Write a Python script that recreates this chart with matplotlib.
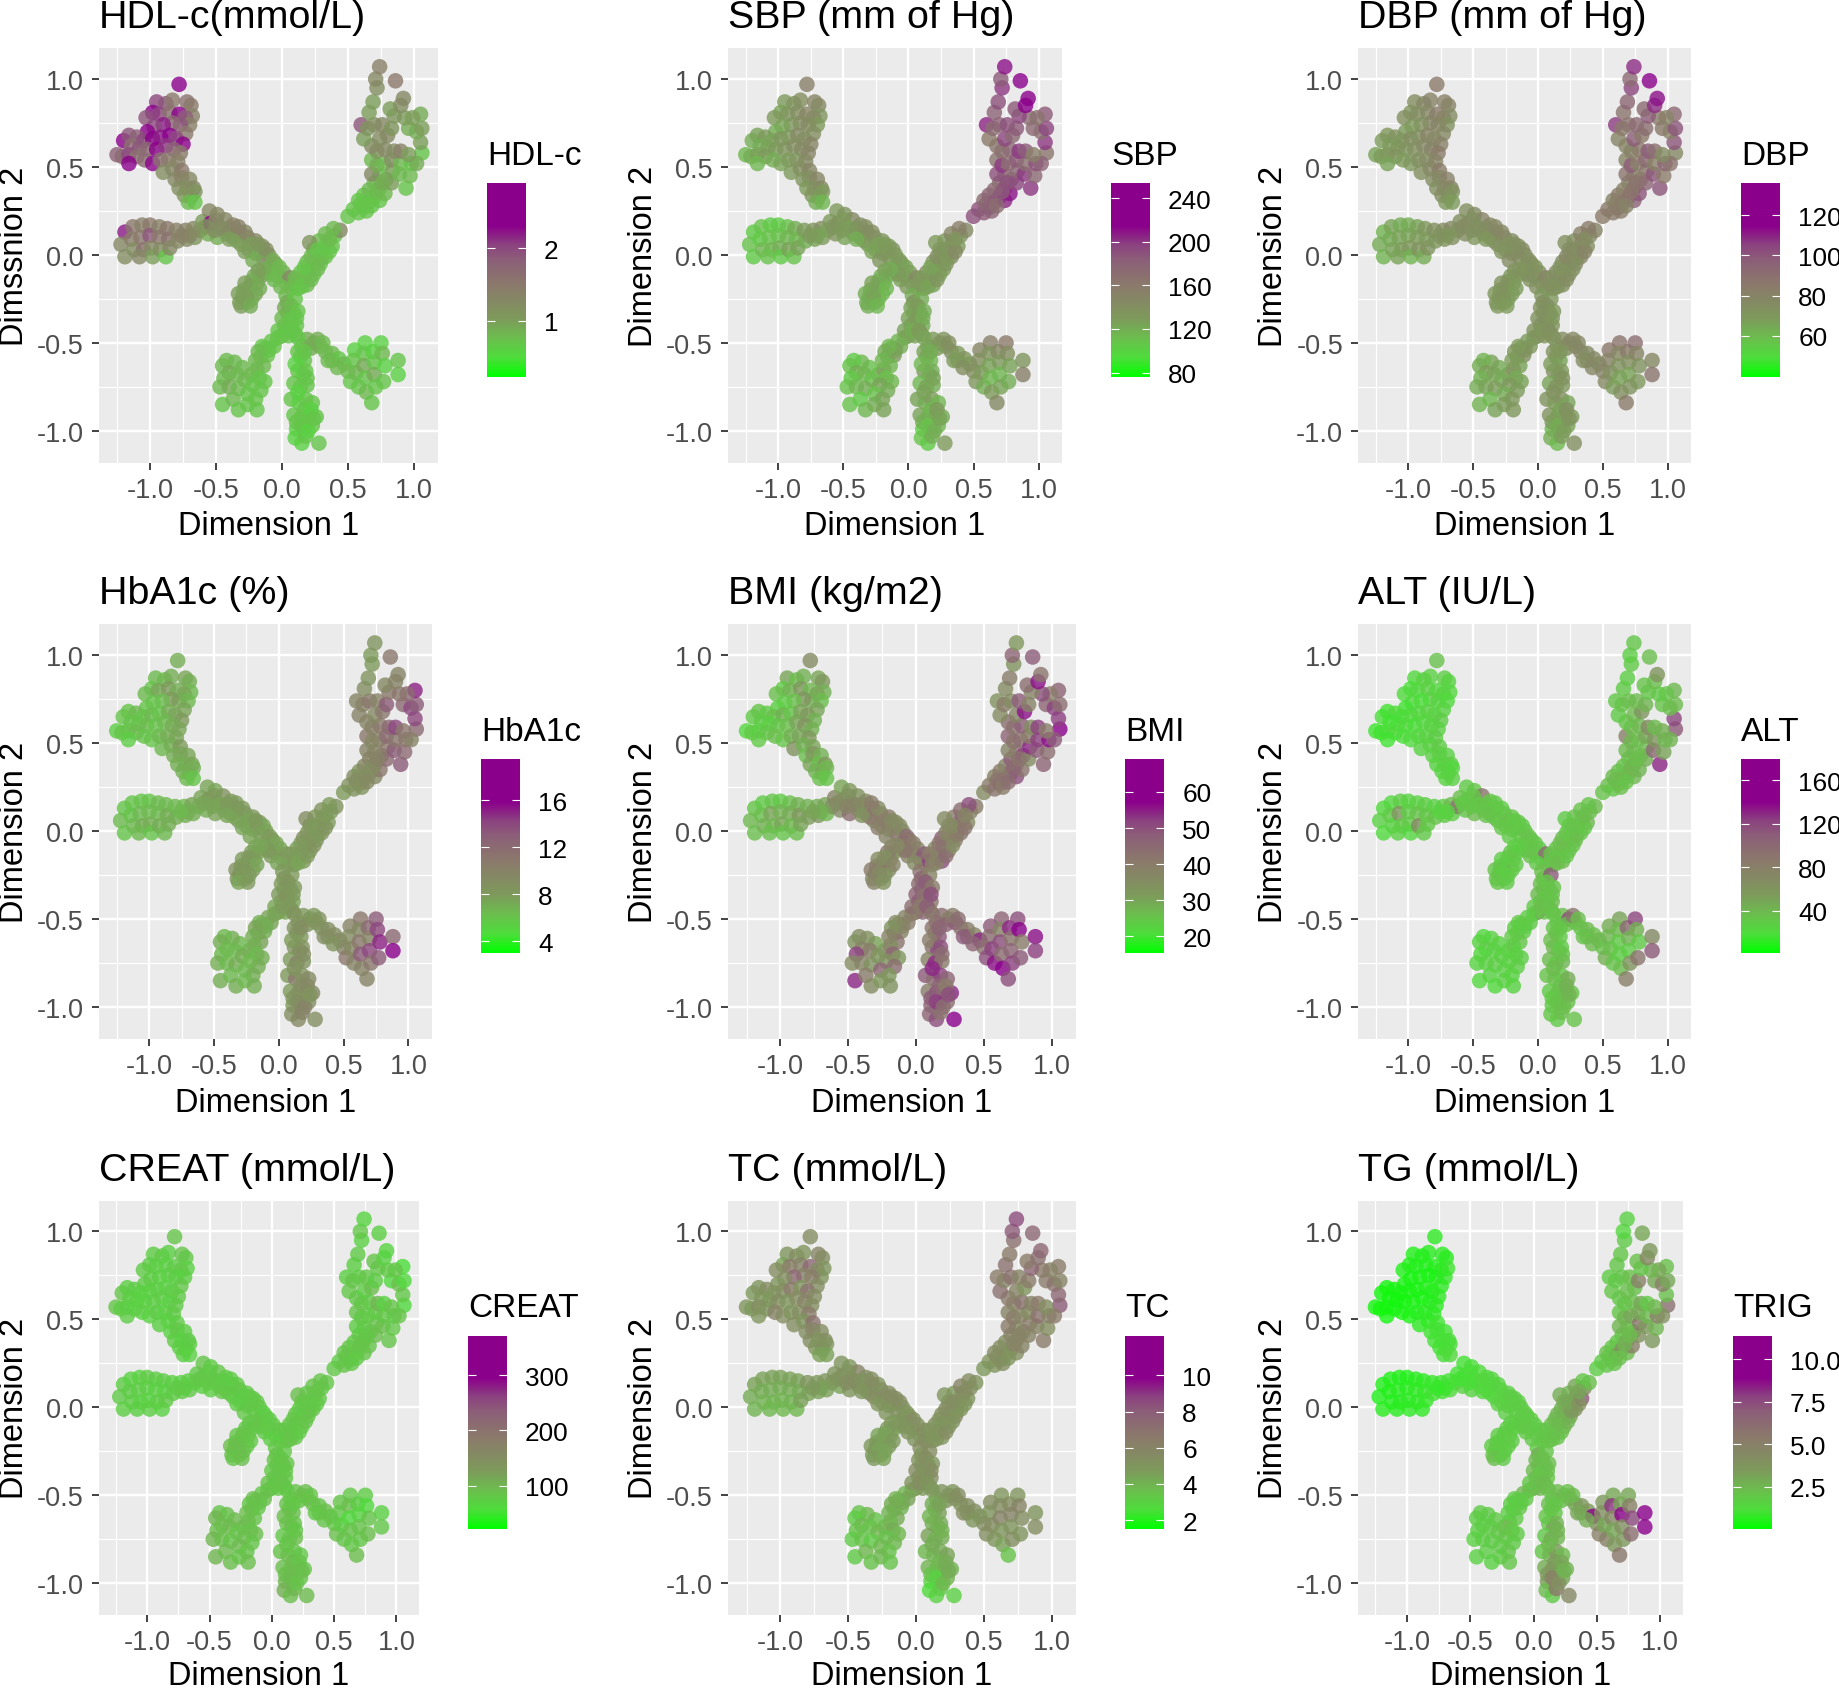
import matplotlib
matplotlib.use("Agg")
import matplotlib.pyplot as plt
import numpy as np
from matplotlib.colors import LinearSegmentedColormap, Normalize

plt.rcParams['font.family'] = ['Liberation Sans', 'DejaVu Sans']

X = [
-.78,-.95,-.88,-.83,-.72,-.69,-.68,-.98,-1.03,-.93,
-.85,-.78,-.73,-.70,-.77,-.83,-.90,-.97,-1.02,-.73,
-1.20,-1.16,-1.10,-1.05,-.98,-.92,-.85,-.80,-.75,-1.14,
-1.08,-1.02,-.95,-.88,-.82,-.77,-1.25,-1.21,-1.16,-1.10,
-1.16,-1.04,-.98,-.92,-.86,-.79,-.90,-.83,-.76,-.81,
-.76,-.70,-.78,-.72,-.67,-.74,-.69,-.66,-.71,-.66,
-1.19,-1.22,-1.19,-1.13,-1.14,-1.12,-1.06,-1.07,-1.05,-1.08,
-1.0,-1.0,-.99,-.98,-.93,-.93,-.92,-.88,-.87,-.86,
-.85,-.80,-.79,-.73,-.72,-.67,-.66,-.62,-.60,-.56,
-.55,-.54,-.49,-.48,-.49,-.43,-.42,-.37,-.37,-.32,
-.31,-.26,-.25,-.20,-.20,-.15,-.14,-.10,-.09,-.05,
-.03,.01,.03,.06,.07,-.12,-.06,-.01,.03,.10,
-.16,-.19,-.21,-.24,-.20,-.27,-.30,-.26,-.32,-.29,
.12,.16,.19,.14,.20,.24,.19,.25,.29,.24,
.30,.33,.28,.34,.38,.33,.40,.44,.39,.21,
.50,.54,.58,.58,.62,.62,.66,.66,.70,.70,
.74,.74,.74,.78,.79,.68,.68,.72,.77,.83,
.84,.83,.89,.90,.94,.97,.98,1.06,1.02,1.05,
.72,.78,.85,.90,.96,.68,.74,.80,.62,.60,
.65,.70,.76,.83,.96,1.02,1.06,1.05,.99,.93,
.85,.82,.90,.92,.66,.69,.72,.71,.74,.86,
.04,.10,.04,.09,.02,.07,.11,.0,.05,.10,
-.03,-.08,-.13,-.16,-.11,-.14,-.19,-.23,-.17,-.13,
-.30,-.36,-.42,-.45,-.40,-.34,-.28,-.22,-.16,-.44,
-.47,-.40,-.33,-.26,-.20,-.45,-.37,-.33,-.26,-.19,
.15,.14,.17,.12,.16,.09,.14,.19,.07,.13,
.18,.23,.09,.15,.21,.26,.11,.17,.23,.28,
.10,.15,.18,.12,.17,.22,.11,.15,.20,.24,
.19,.24,.29,.33,.38,.38,.43,.47,.50,.52,
.55,.54,.56,.58,.63,.62,.62,.63,.64,.68,
.69,.70,.70,.71,.75,.76,.78,.77,.88,.88,
-.50,-.45,-.40,-.34,-.28,-.23,-.17,-.12,-.07,-.02,
-.70,-.76,-.58,-.51,-.33,-.40,-.18,-.28,-.22,-.08,
-.14,-.18,-.23,-.17,-.28,-.33,-.23,-.27,-.31,-.24,
.10,.15,.22,.27,.17,.22,.30,.27,.36,.36,
.02,.07,.12,.0,.06,.11,-.03,.03,.08,.12,
-.06,-.10,-.15,-.18,-.20,.22,.27,.31,.35,.42,
.12,.17,.10,.18,.19,.60,.64,.68,.72,.76,
]
Y = [
.97,.87,.86,.88,.87,.85,.79,.81,.78,.80,
.81,.80,.78,.74,.74,.75,.74,.73,.70,.69,
.65,.68,.67,.65,.66,.67,.68,.66,.63,.62,
.61,.60,.60,.62,.60,.58,.57,.56,.57,.56,
.52,.54,.52,.54,.54,.53,.47,.49,.48,.43,
.44,.43,.38,.38,.38,.34,.33,.36,.30,.30,
.13,.06,-.01,.16,.09,.03,.17,.10,.03,-.01,
.17,.11,.04,-.01,.16,.10,.03,-.01,.15,.09,
.04,.14,.08,.14,.09,.15,.10,.14,.19,.12,
.25,.18,.23,.16,.10,.20,.12,.17,.10,.13,
.06,.10,.03,.08,.01,.05,-.02,0.0,-.07,-.05,
-.12,-.10,-.16,-.13,-.19,-.10,-.14,-.18,-.23,-.17,
-.12,-.16,-.12,-.18,-.22,-.21,-.24,-.27,-.27,-.20,
-.19,-.14,-.17,-.10,-.09,-.11,-.04,-.04,-.05,.03,
.02,-.01,.08,.07,.05,.12,.11,.14,.15,.07,
.22,.26,.24,.31,.27,.34,.30,.37,.33,.41,
.31,.38,.45,.35,.43,.46,.54,.51,.52,.41,
.48,.54,.46,.52,.38,.45,.52,.58,.52,.64,
.59,.60,.59,.59,.57,.62,.66,.68,.66,.74,
.72,.74,.74,.72,.72,.70,.72,.80,.78,.78,
.79,.83,.85,.89,.81,.87,.95,1.0,1.07,.99,
-.27,-.25,-.33,-.33,-.40,-.40,-.40,-.46,-.46,-.45,
-.47,-.49,-.53,-.58,-.57,-.63,-.65,-.68,-.70,-.72,
-.64,-.61,-.60,-.63,-.67,-.68,-.71,-.74,-.77,-.70,
-.75,-.75,-.76,-.79,-.82,-.85,-.82,-.88,-.85,-.88,
-.52,-.58,-.60,-.66,-.68,-.73,-.75,-.74,-.82,-.84,
-.82,-.84,-.91,-.92,-.91,-.92,-.99,-.98,-.97,-1.07,
-1.04,-1.07,-1.03,-.78,-.88,-.88,-.95,-.97,-1.0,-.93,
-.48,-.50,-.52,-.55,-.56,-.60,-.59,-.62,-.66,-.72,
-.54,-.60,-.67,-.75,-.50,-.56,-.63,-.70,-.78,-.84,
-.55,-.61,-.68,-.75,-.50,-.56,-.63,-.72,-.60,-.68,
.20,.15,.15,.08,.13,.06,.02,.03,-.03,-.07,
.11,.11,.16,.14,.16,.09,.06,.02,-.03,-.11,
-.08,-.09,-.15,-.19,-.16,-.22,-.25,-.24,-.29,-.29,
-.13,-.18,-.14,-.08,-.07,-.01,-.02,.03,.02,.09,
-.30,-.29,-.32,-.36,-.37,-.36,-.43,-.43,-.43,-.47,
-.52,-.54,-.52,-.55,-.60,-.53,-.48,-.50,-.60,-.64,
-.55,-.55,-.62,-.66,-.70,.29,.25,.28,.36,.41,
]

HDL = [
2.5,2.0,1.9,1.5,1.6,1.5,1.4,2.3,1.9,2.0,
1.6,2.3,1.8,1.4,1.9,1.7,2.2,2.0,2.4,1.5,
2.6,1.9,1.8,2.0,2.4,2.2,2.5,2.0,2.4,1.6,
1.9,1.7,2.3,2.1,1.8,1.5,1.8,1.7,2.0,1.6,
2.5,1.7,2.4,1.6,1.5,1.4,1.2,1.3,1.5,1.3,
1.4,1.3,1.2,1.2,1.3,1.1,1.2,1.1,.8,.7,
2.2,1.3,1.2,1.5,1.4,1.2,1.4,1.5,1.6,1.3,
1.5,1.9,1.3,1.0,1.4,1.5,1.2,.7,1.5,1.6,
1.3,1.4,1.3,1.4,1.3,1.3,1.1,1.2,1.0,.9,
1.3,2.3,1.3,1.2,.9,1.3,1.0,1.4,1.1,1.4,
1.0,1.4,1.1,1.3,1.0,1.2,1.6,1.1,.8,1.0,
.8,.9,.8,1.3,.8,.9,.8,.8,.8,.8,
1.0,1.0,.9,1.0,1.0,.9,1.0,.9,1.0,.9,
.7,.7,.8,.7,.8,.7,.8,.7,.7,.9,
.7,.7,.8,.7,.7,.8,.7,1.3,.8,1.1,
.7,.7,.7,.7,.7,.7,.7,.8,.7,.8,
.7,.8,.7,.8,.9,1.3,.8,.9,.8,1.0,
1.0,1.2,.8,.8,.7,.8,.7,.7,.9,1.0,
1.1,1.3,1.2,1.4,1.0,1.3,1.2,1.3,1.0,1.9,
1.1,1.2,1.3,1.1,.9,.9,1.0,.9,1.0,1.0,
1.1,1.0,1.2,1.3,1.0,1.0,1.2,1.3,1.4,1.5,
.9,.7,.9,.7,.8,.7,.7,.9,.7,.7,
.7,.7,.7,.8,.7,.8,.8,.8,.7,.7,
.8,.8,.8,.8,.9,.8,.8,.7,.7,.8,
.8,.9,.8,.7,.7,.7,.8,.7,.7,.7,
.7,.6,.7,.7,.6,.7,.7,.7,.7,.6,
.7,.7,.7,.7,.7,.7,.6,.6,.7,.7,
.6,.6,.7,.6,.7,.6,.7,.7,.6,.7,
.9,.9,.8,.8,.8,.8,.7,.8,.8,.7,
.6,.7,.8,.7,.6,.7,.9,.7,.8,.7,
.6,.7,.9,.7,.6,.8,.6,.7,.7,.6,
1.3,1.2,1.3,1.0,1.3,1.0,.9,1.2,.9,.8,
1.3,1.4,1.1,1.2,1.4,1.0,1.1,1.0,.9,.8,
.9,1.0,.9,.9,1.0,1.0,.9,1.0,1.0,.9,
.8,.7,.8,.8,.7,.8,.8,.7,.7,.8,
.9,.8,.7,.8,.7,.7,.7,.7,.7,.7,
.7,.7,.7,.8,.8,.9,.9,.8,.8,.8,
.7,.7,.6,.7,.7,.7,.7,.7,.8,.9,
]
SBP = [
155,130,135,140,150,145,135,125,130,135,
140,150,145,130,140,145,135,125,120,140,
120,125,130,125,135,130,145,140,150,120,
125,130,135,140,145,150,115,120,125,130,
115,120,125,130,135,145,130,140,150,135,
140,150,130,140,145,135,135,130,120,115,
105,110,105,110,105,115,105,110,115,110,
105,110,120,105,110,115,125,110,120,115,
125,130,120,135,125,140,130,125,130,135,
130,140,135,130,125,145,130,140,125,145,
125,140,130,135,130,130,140,125,130,130,
135,130,125,145,130,120,125,130,120,130,
115,125,120,125,115,125,120,125,120,125,
130,135,125,140,130,125,135,130,140,135,
125,145,130,140,130,150,135,145,155,130,
190,190,185,170,190,180,195,175,185,170,
205,185,165,210,175,190,165,200,170,195,
175,185,200,170,200,175,190,165,180,200,
170,175,200,185,155,165,195,175,160,205,
170,180,190,185,175,170,195,185,165,170,
195,185,215,225,180,190,200,185,210,230,
140,120,125,130,135,125,120,130,125,130,
125,115,120,125,130,115,120,125,110,115,
110,115,105,110,120,115,110,125,120,105,
110,115,120,110,125,110,105,115,120,125,
120,125,115,130,120,115,125,120,125,120,
130,115,125,120,130,120,100,110,115,130,
110,105,120,125,115,130,120,110,120,125,
130,135,125,140,130,125,135,130,140,135,
150,140,130,120,155,135,125,115,130,145,
145,130,115,125,160,140,125,120,135,155,
130,125,135,130,140,125,130,135,130,125,
125,130,135,130,140,120,130,125,135,130,
120,125,120,115,125,120,115,125,120,115,
130,125,135,130,125,140,130,135,145,135,
125,130,120,125,130,120,125,120,130,125,
120,125,115,120,115,130,135,140,130,140,
125,120,115,120,125,175,180,170,185,190,
]
DBP = [
85,75,78,80,82,80,76,72,74,75,
78,84,80,72,78,80,74,70,68,78,
68,70,72,70,75,74,80,78,82,68,
70,72,74,78,80,84,66,68,70,72,
66,68,70,74,76,80,74,78,84,76,
78,82,74,78,80,76,76,72,70,68,
62,64,62,66,64,66,64,66,68,66,
64,66,70,62,66,68,72,64,70,68,
72,74,70,76,72,78,74,72,74,76,
74,78,76,74,70,80,74,78,72,80,
72,78,74,76,72,74,78,72,74,74,
76,74,72,80,74,70,72,74,70,74,
68,72,70,72,68,72,70,72,70,72,
74,76,72,78,74,72,76,74,78,76,
72,80,74,78,74,82,76,80,84,74,
84,86,84,80,88,84,92,82,88,80,
96,90,78,100,84,88,80,98,82,95,
86,92,100,82,100,84,95,78,88,100,
82,85,98,90,76,80,98,85,80,106,
84,88,92,90,86,82,100,92,80,84,
98,92,108,112,88,94,104,92,108,115,
76,70,72,74,76,72,70,74,72,74,
72,68,70,72,74,66,70,72,64,66,
64,66,62,64,68,66,64,70,68,62,
64,66,68,64,70,62,60,66,68,70,
70,72,66,74,70,66,72,70,72,68,
74,66,72,68,74,68,60,64,66,74,
64,60,68,72,66,74,68,64,68,72,
76,78,74,80,76,72,78,76,80,78,
86,80,74,68,88,78,72,66,74,84,
84,74,66,72,90,80,72,70,78,88,
74,72,76,74,78,72,74,76,74,72,
70,72,76,74,78,70,74,72,76,74,
70,72,70,68,72,70,68,72,70,68,
74,72,76,74,72,78,74,76,80,76,
72,74,70,72,74,70,72,70,74,72,
70,72,68,70,68,76,78,78,76,78,
72,70,68,70,72,82,84,80,86,88,
]
HBA1C = [
7.0,6.5,6.5,7.0,7.5,7.0,6.5,6.0,6.5,7.5,
8.0,7.0,7.5,6.5,7.0,8.0,6.5,6.0,6.0,7.5,
6.0,6.0,6.5,6.0,6.5,6.0,7.0,7.5,8.0,6.0,
6.0,6.5,6.0,6.5,7.0,7.5,5.5,6.0,6.0,6.5,
5.5,6.0,6.0,6.5,7.0,7.5,6.5,7.0,8.0,7.0,
7.5,7.5,7.0,7.0,7.5,7.0,7.0,7.0,6.5,6.0,
6.0,6.5,6.0,6.0,6.0,6.5,6.0,6.5,7.0,6.5,
6.0,6.5,7.0,6.0,6.5,6.5,7.0,6.5,6.5,7.0,
7.0,6.5,7.0,6.5,7.0,7.5,7.0,7.0,7.5,7.0,
7.5,8.5,7.5,8.0,7.5,8.5,8.0,8.0,7.5,9.0,
8.0,8.5,8.0,8.0,7.5,8.0,8.5,7.5,8.0,8.0,
8.0,7.5,8.0,8.0,8.0,7.5,8.0,7.5,8.0,7.5,
7.5,8.0,8.0,8.5,8.0,11.0,8.5,8.0,8.5,8.0,
8.0,7.5,8.0,7.5,8.0,8.5,9.0,8.0,8.5,8.0,
8.0,8.5,8.0,8.5,8.0,8.5,8.0,8.5,8.0,9.0,
8.0,8.5,8.5,9.0,9.0,8.5,9.0,9.5,9.0,10.0,
9.5,10.0,10.0,11.0,10.0,10.0,11.0,9.5,10.0,12.0,
11.0,12.0,13.0,11.0,13.0,12.0,11.0,12.0,10.0,14.0,
10.0,11.0,12.0,14.0,11.0,10.0,9.5,11.0,10.0,10.0,
10.0,11.0,10.0,13.0,12.0,14.0,13.0,15.0,12.0,11.0,
11.0,9.5,10.0,10.0,9.0,8.5,8.0,8.0,8.5,11.0,
8.5,8.0,8.0,8.5,8.0,8.0,7.5,8.0,7.5,8.0,
7.5,7.5,7.0,7.5,7.0,7.5,7.0,7.0,6.5,7.0,
6.5,7.0,6.5,7.0,6.5,6.5,7.0,6.5,7.0,6.5,
7.0,6.5,7.0,6.5,7.0,7.0,6.5,7.0,6.5,7.0,
8.5,9.0,8.0,8.5,9.5,8.0,10.0,8.5,8.0,11.0,
8.5,9.5,8.0,9.0,8.5,9.5,8.0,11.0,9.0,9.0,
9.0,9.5,10.0,8.5,9.0,9.5,8.5,9.0,10.0,8.5,
8.0,8.5,8.0,8.5,9.0,8.5,9.0,9.5,10.0,11.0,
10.0,9.0,9.5,10.0,11.0,9.5,11.0,13.0,10.0,10.0,
12.0,10.0,14.0,11.0,13.0,14.0,15.0,13.0,12.0,16.0,
8.0,7.5,8.0,7.5,8.0,7.5,8.0,7.5,8.0,7.5,
7.0,6.5,7.5,7.5,8.0,7.5,8.0,7.5,7.5,8.0,
7.5,7.5,8.0,7.5,8.0,8.5,8.0,8.0,7.5,8.0,
8.0,7.5,8.0,8.5,8.0,8.5,8.0,8.0,8.5,8.0,
8.0,8.5,8.0,8.0,8.5,8.0,7.5,8.0,8.0,8.5,
7.5,7.0,7.0,7.5,7.0,8.5,8.0,8.5,9.0,8.5,
8.5,9.0,8.0,8.5,9.0,9.0,8.5,9.5,9.0,10.0,
]
BMI = [
36,30,26,28,30,32,28,24,26,28,
32,27,30,26,28,33,26,24,23,30,
24,25,24,26,28,25,30,32,28,24,
23,25,26,30,33,28,22,24,23,25,
24,26,25,28,30,32,34,28,30,26,
33,28,30,26,32,28,30,27,26,25,
25,27,26,24,26,28,25,30,27,26,
24,28,30,25,26,29,27,26,28,32,
30,28,31,29,33,30,27,34,38,36,
30,34,32,38,44,34,40,36,35,46,
34,38,33,40,35,36,46,36,50,38,
42,36,46,48,40,36,38,36,42,52,
32,38,42,36,35,46,38,34,36,40,
38,34,50,36,44,38,48,36,40,34,
38,42,40,48,36,44,38,40,50,36,
36,40,42,38,46,40,44,38,42,48,
50,38,44,42,52,38,46,42,44,36,
54,40,48,52,46,44,56,60,48,52,
42,48,36,52,40,44,38,56,36,34,
40,36,48,38,46,52,44,46,40,50,
38,44,56,42,36,40,34,46,32,48,
46,38,52,44,54,48,42,40,46,38,
40,38,36,44,38,42,34,38,46,32,
30,34,36,34,38,40,32,34,44,52,
36,38,34,46,32,54,40,36,32,34,
44,38,48,42,50,38,54,40,48,44,
52,46,40,50,42,54,46,56,44,58,
46,50,42,54,46,40,48,52,44,50,
44,38,52,42,40,46,38,54,42,50,
48,44,52,56,46,38,50,44,58,50,
54,42,46,52,50,58,40,48,56,52,
34,38,36,42,36,40,38,36,44,40,
28,30,36,38,40,34,36,40,38,42,
36,38,34,38,36,40,34,36,38,34,
40,38,44,36,42,38,40,36,42,38,
44,48,40,46,42,50,44,40,48,42,
40,38,36,34,38,46,40,44,48,46,
42,46,40,50,44,42,40,44,46,42,
]
ALT = [
35,22,24,26,28,24,22,18,20,22,
26,22,24,20,22,26,18,20,16,24,
18,16,20,18,20,22,24,26,28,16,
18,20,18,22,24,26,15,16,18,20,
16,18,20,22,24,28,24,26,30,26,
28,26,24,26,28,24,28,22,24,26,
22,26,20,22,30,24,28,60,30,26,
24,28,30,22,26,34,70,30,28,32,
30,26,34,28,30,38,28,90,36,32,
30,34,32,30,38,90,34,32,36,38,
34,36,30,32,38,34,30,34,36,32,
36,30,32,100,36,32,34,30,36,34,
28,30,32,34,30,55,32,30,34,32,
34,32,38,30,36,34,38,32,36,30,
38,34,36,32,40,34,36,38,34,30,
34,36,32,38,34,36,40,34,38,36,
40,36,38,42,36,38,80,40,36,44,
38,48,100,60,130,50,40,110,42,120,
36,40,70,38,44,34,38,60,30,32,
34,36,38,42,34,36,38,40,34,30,
32,34,36,60,30,28,30,28,32,36,
36,110,34,32,38,34,36,120,34,40,
30,28,32,26,30,32,28,30,26,28,
24,26,22,24,28,26,24,26,28,22,
24,26,28,26,24,22,24,20,26,24,
32,36,30,40,34,38,30,42,34,36,
32,46,30,36,40,34,30,40,36,34,
32,30,36,38,34,44,30,34,36,42,
38,120,36,34,38,40,36,38,34,44,
46,40,36,34,50,38,30,28,36,80,
100,42,28,60,120,44,30,90,70,110,
32,30,34,32,30,34,32,30,34,32,
26,24,30,32,30,34,30,32,30,34,
30,28,32,30,28,32,30,28,32,30,
34,36,32,34,36,32,36,34,32,36,
36,32,34,38,32,34,30,36,34,32,
30,28,30,28,30,34,90,36,34,38,
34,32,36,30,34,38,36,34,40,36,
]
CREAT = [
85,75,78,72,85,80,70,75,78,72,
70,75,80,72,68,75,70,72,78,80,
85,72,75,70,68,72,70,75,78,72,
70,68,72,75,70,78,85,75,72,70,
75,72,68,75,70,78,72,70,75,68,
80,72,75,70,78,72,70,75,72,70,
75,78,72,70,75,72,68,75,70,72,
78,72,68,72,75,70,72,68,75,70,
78,72,75,70,78,72,80,75,78,72,
85,80,75,78,72,80,75,78,72,80,
78,80,75,78,72,80,75,78,85,72,
75,78,72,80,70,75,78,72,80,70,
85,80,78,85,80,120,85,80,90,85,
80,85,78,85,80,78,85,80,78,85,
80,85,78,85,80,85,78,80,85,90,
80,78,85,80,78,85,80,78,85,80,
85,80,78,85,80,75,85,80,78,90,
85,78,90,80,85,80,78,60,85,80,
85,78,100,70,85,80,75,90,80,72,
85,78,80,75,60,90,60,55,85,78,
80,85,70,65,72,78,70,80,65,72,
85,80,90,78,85,80,78,85,80,85,
85,80,85,90,80,85,90,95,85,90,
95,90,85,100,90,95,85,90,85,90,
100,90,85,95,85,100,95,90,85,90,
85,80,90,85,95,80,85,90,85,90,
85,80,90,85,95,85,100,90,85,95,
105,90,100,85,95,85,90,95,85,90,
85,90,85,90,85,80,90,85,80,90,
85,80,75,85,80,90,60,85,80,90,
75,65,85,80,75,60,85,90,70,80,
78,80,75,78,80,75,78,80,75,78,
75,78,80,78,75,80,78,75,80,78,
85,80,85,80,85,90,85,90,85,90,
80,85,78,85,80,78,85,80,78,85,
85,80,85,80,85,80,85,80,85,80,
90,85,90,85,90,85,90,85,80,85,
85,80,90,85,80,85,80,78,85,80,
]
TC = [
5.5,5.0,5.5,5.0,6.0,5.5,5.0,4.5,5.5,6.5,
6.0,7.5,5.5,5.0,6.5,6.0,7.5,5.5,5.0,5.5,
4.8,5.0,5.5,5.0,5.5,6.5,5.0,7.0,5.5,5.0,
4.8,5.5,5.0,5.5,6.0,5.5,5.0,4.8,5.5,5.0,
5.0,6.0,5.5,5.0,5.5,6.5,5.5,5.0,7.0,5.5,
6.0,5.5,5.5,5.0,5.5,5.0,5.5,5.0,4.5,4.5,
4.5,4.2,4.0,4.5,4.2,4.0,4.5,4.2,4.0,3.8,
4.5,4.2,4.0,3.8,4.5,4.2,4.0,3.8,4.5,4.2,
4.5,5.0,4.5,4.8,4.5,5.0,4.5,4.8,5.0,4.5,
5.0,5.5,5.0,5.5,5.0,6.0,5.5,5.5,5.0,6.0,
5.5,6.0,5.0,5.5,5.0,5.5,5.5,5.0,5.5,5.0,
5.5,5.0,5.5,5.5,6.5,4.8,5.0,5.0,5.5,5.0,
4.5,4.5,4.8,4.5,4.8,4.5,4.8,4.5,4.5,4.8,
5.0,4.8,5.0,5.5,4.8,5.0,5.5,5.0,6.0,5.0,
5.5,5.0,4.8,5.5,5.0,6.0,5.5,5.0,5.5,5.0,
4.8,5.0,5.0,5.5,5.0,5.5,5.5,5.5,5.0,6.0,
5.5,6.0,5.5,6.0,6.0,6.5,6.0,6.5,6.0,6.0,
6.5,5.5,6.0,7.0,6.5,5.5,6.0,8.0,6.5,7.5,
6.0,7.0,6.0,6.5,5.5,6.5,6.0,5.0,7.0,6.5,
6.0,7.0,6.0,6.5,6.5,7.0,6.0,6.5,6.0,6.5,
7.5,6.5,7.0,7.5,7.0,6.5,7.0,8.0,8.5,7.5,
5.0,5.5,5.5,5.0,5.5,5.0,5.5,5.0,4.8,5.0,
4.5,4.0,4.5,4.2,4.0,4.2,3.8,4.0,4.2,3.8,
3.5,3.8,3.5,3.2,3.8,3.5,3.8,3.5,3.8,3.5,
3.2,3.5,3.2,3.8,3.5,3.2,3.8,3.5,3.8,3.5,
4.2,4.0,4.5,4.2,4.0,4.5,4.0,4.2,3.8,4.0,
4.2,4.5,4.0,3.8,4.2,4.0,3.0,3.2,4.0,3.0,
2.6,3.0,3.2,4.2,3.8,4.2,3.5,3.0,3.8,4.2,
5.0,5.0,5.5,5.0,5.5,5.0,5.5,5.0,5.5,5.5,
5.5,5.0,5.5,5.0,5.0,5.5,6.0,5.0,4.5,3.5,
5.5,6.0,5.0,5.5,5.0,6.0,5.5,5.0,5.0,5.5,
5.0,5.5,5.0,5.5,5.0,5.5,5.0,5.5,5.0,5.5,
4.5,4.8,5.0,5.5,5.5,5.0,5.5,5.0,5.0,5.0,
5.0,4.8,4.5,4.8,4.5,4.8,4.5,4.5,4.8,4.5,
5.0,5.0,5.5,5.0,5.0,5.5,5.0,5.5,5.0,5.5,
5.0,5.5,5.0,5.5,5.0,5.5,5.0,5.5,5.0,4.8,
4.5,4.2,4.0,4.2,4.0,5.0,5.0,5.5,5.5,5.0,
4.2,4.5,4.0,4.2,4.0,5.5,5.5,5.0,6.0,6.0,
]
TG = [
.7,.5,.5,.6,.7,.6,.9,.5,.5,.5,
.5,.5,.7,.8,.6,.4,.4,.4,.4,.7,
.3,.3,.3,.4,.4,.4,.5,.5,.7,.3,
.3,.3,.4,.4,.5,.7,.3,.3,.3,.3,
.3,.4,.4,.5,.6,.7,.7,.7,.9,.9,
1.0,1.0,1.0,1.0,1.1,1.0,1.1,1.1,1.1,1.2,
.5,.5,.6,.5,.5,.5,.5,.6,.6,.6,
.5,.6,.7,.7,.6,.7,.7,.7,.7,.8,
.8,.8,1.0,.9,1.0,1.0,1.2,1.1,1.0,1.6,
1.0,1.1,1.1,1.3,1.5,1.2,1.4,1.3,1.5,1.4,
1.6,1.5,1.6,1.6,1.7,1.7,1.7,1.8,1.8,1.8,
1.8,1.8,1.9,1.8,2.0,1.7,1.8,1.9,1.9,2.0,
1.6,1.6,1.7,1.8,1.8,1.8,1.7,3.0,2.0,1.8,
2.0,2.2,2.0,2.2,2.4,2.8,2.6,3.5,3.2,3.8,
3.0,3.8,2.6,3.5,7.0,3.0,4.5,2.2,2.0,2.8,
1.7,1.8,2.0,2.2,2.6,2.0,4.5,2.0,4.0,2.0,
2.4,3.0,2.0,5.0,2.2,2.6,2.0,2.6,3.0,4.0,
5.5,3.0,3.5,2.4,3.5,2.6,5.0,6.0,4.0,2.2,
2.0,2.2,3.0,1.9,2.5,2.0,2.2,2.2,2.0,1.8,
1.9,2.0,2.2,5.0,3.0,5.0,3.0,2.2,3.0,2.5,
2.0,2.2,4.5,3.5,2.0,2.0,1.8,1.4,1.6,3.0,
2.8,2.0,2.4,2.6,2.2,2.0,2.0,3.0,2.5,2.2,
2.2,2.5,2.2,1.8,2.0,1.8,2.0,2.5,1.9,1.8,
1.8,1.8,1.8,1.7,1.7,1.8,2.0,2.0,1.8,1.7,
1.6,1.7,1.8,1.8,2.0,1.6,1.7,1.6,1.8,2.0,
1.8,1.9,2.0,2.0,3.2,1.9,3.0,2.5,2.0,2.6,
3.5,2.4,2.8,4.0,3.0,2.6,3.5,4.5,3.0,4.5,
2.4,1.9,5.5,2.4,3.5,3.0,3.5,5.0,4.0,2.6,
2.4,2.4,2.6,3.0,3.5,3.0,3.5,9.0,4.0,5.0,
3.5,4.0,3.0,5.0,3.0,8.0,4.5,3.0,3.5,5.5,
3.0,9.0,4.0,3.5,3.0,5.0,7.5,6.0,9.5,9.5,
1.1,1.2,1.3,1.4,1.5,1.6,1.7,1.7,1.8,1.8,
.9,.8,1.0,1.1,1.4,1.3,1.7,1.6,1.7,1.9,
1.8,1.7,1.8,1.8,1.7,1.8,1.7,1.8,2.2,1.8,
2.0,2.1,2.2,2.6,2.4,2.6,3.5,3.0,3.8,3.0,
2.4,2.2,2.2,2.4,2.0,2.2,2.0,2.2,2.4,2.2,
1.9,1.8,1.8,1.7,1.7,2.4,2.2,2.4,3.0,2.8,
2.2,2.0,2.0,2.6,2.6,2.0,2.0,2.2,2.6,2.4,
]

PANELS = ["HDL-c(mmol/L)", "SBP (mm of Hg)", "DBP (mm of Hg)",
          "HbA1c (%)", "BMI (kg/m2)", "ALT (IU/L)",
          "CREAT (mmol/L)", "TC (mmol/L)", "TG (mmol/L)"]
LEGENDS = ["HDL-c", "SBP", "DBP", "HbA1c", "BMI", "ALT", "CREAT", "TC", "TRIG"]
VALUES = [HDL, SBP, DBP, HBA1C, BMI, ALT, CREAT, TC, TG]
LIMITS = [(0.23, 2.89), (76, 254), (39.6, 135.8), (3.0, 19.5), (15.4, 69),
          (1, 179), (21, 372), (1.5, 12.2), (0.0, 11.4)]
BAR_TICKS = [[1, 2], [80, 120, 160, 200, 240], [60, 80, 100, 120], [4, 8, 12, 16],
             [20, 30, 40, 50, 60], [40, 80, 120, 160], [100, 200, 300],
             [2, 4, 6, 8, 10], [2.5, 5.0, 7.5, 10.0]]
BAR_LABELS = [["1", "2"], ["80", "120", "160", "200", "240"], ["60", "80", "100", "120"],
              ["4", "8", "12", "16"], ["20", "30", "40", "50", "60"],
              ["40", "80", "120", "160"], ["100", "200", "300"],
              ["2", "4", "6", "8", "10"], ["2.5", "5.0", "7.5", "10.0"]]
YLABELS = ["Dimssnion 2"] + ["Dimension 2"] * 8
XTICKS = [-1.0, -0.5, 0.0, 0.5, 1.0]
TICK_LABELS = ["-1.0", "-0.5", "0.0", "0.5", "1.0"]

# layout, in pixels of the 1568-wide view
K = 1840 / 1568
W, H = 1840, 1690
ROWS = [(42, 395), (533, 886), (1024, 1377)]
AX_X = [(84, 373), (620, 905), (1157, 1441),
        (84, 368), (620, 917), (1157, 1441),
        (84, 357), (620, 917), (1157, 1434)]
YLABEL_X = [12, 548, 1085]
BAR_X = [415, 947, 1484, 410, 959, 1484, 399, 959, 1477]

cmap = LinearSegmentedColormap.from_list("gpp", [
    (0.00, "#00FF00"), (0.10, "#4FDC3C"), (0.20, "#6CBE4E"), (0.30, "#7E9A5C"),
    (0.47, "#8B7B6B"), (0.60, "#8C6078"), (0.68, "#8C4480"), (0.78, "#8B008B"),
    (1.00, "#8B008B")])

fig = plt.figure(figsize=(W / 100, H / 100), dpi=100, facecolor="white")

def box(x0, x1, y0, y1):
    return [x0 * K / W, 1 - y1 * K / H, (x1 - x0) * K / W, (y1 - y0) * K / H]

for i in range(9):
    top, bot = ROWS[i // 3]
    x0, x1 = AX_X[i]
    ax = fig.add_axes(box(x0, x1, top, bot))
    ax.set_facecolor("#EBEBEB")
    for s in ax.spines.values():
        s.set_visible(False)
    norm = Normalize(*LIMITS[i])
    ax.scatter(X, Y, c=VALUES[i], cmap=cmap, norm=norm, s=125, alpha=0.8,
               linewidths=0, zorder=3)
    ax.set_xlim(-1.39, 1.18)
    ax.set_ylim(-1.18, 1.175)
    ax.set_xticks(XTICKS)
    ax.set_xticklabels(TICK_LABELS)
    ax.set_yticks(XTICKS)
    ax.set_yticklabels(TICK_LABELS)
    ax.set_xticks([-1.25, -.75, -.25, .25, .75], minor=True)
    ax.set_yticks([-.75, -.25, .25, .75], minor=True)
    ax.set_axisbelow(True)
    ax.grid(which="major", color="white", lw=1.7)
    ax.grid(which="minor", color="white", lw=0.8)
    ax.tick_params(which="major", length=5, width=1.3, color="#333333",
                   labelcolor="#4D4D4D", labelsize=19.5, pad=5.5)
    ax.tick_params(which="minor", length=0)
    h = bot - top
    wd = x1 - x0
    ax.set_xlabel("Dimension 1", fontsize=23.5, color="black", va="center")
    ax.xaxis.set_label_coords(0.5, -(54 if i < 6 else 52) / h)
    ax.set_ylabel(YLABELS[i], fontsize=23.5, color="black", va="center")
    ax.yaxis.set_label_coords((YLABEL_X[i % 3] - x0) / wd, 0.5)
    fig.text(x0 * K / W, 1 - (top - 18) * K / H, PANELS[i], fontsize=28.4,
             color="black", ha="left", va="baseline")

    # colour bar
    bx = BAR_X[i]
    cax = fig.add_axes(box(bx, bx + 33, top + 115, top + 280))
    lo, hi = LIMITS[i]
    grad = np.linspace(0, 1, 256)[:, None]
    cax.imshow(grad, cmap=cmap, origin="lower", aspect="auto",
               extent=[0, 1, lo, hi], vmin=0, vmax=1)
    for s in cax.spines.values():
        s.set_visible(False)
    cax.set_xticks([])
    cax.yaxis.tick_right()
    cax.set_yticks(BAR_TICKS[i])
    cax.set_yticklabels(BAR_LABELS[i])
    cax.tick_params(length=0, labelsize=18.8, labelcolor="black", pad=13)
    cax.hlines(BAR_TICKS[i], 0, 0.2, color="white", lw=0.8)
    cax.hlines(BAR_TICKS[i], 0.8, 1, color="white", lw=0.8)
    cax.set_xlim(0, 1)
    cax.set_ylim(lo, hi)
    cax.set_title(LEGENDS[i], loc="left", fontsize=24, pad=14, color="black")

fig.savefig("out.png", dpi=100)
